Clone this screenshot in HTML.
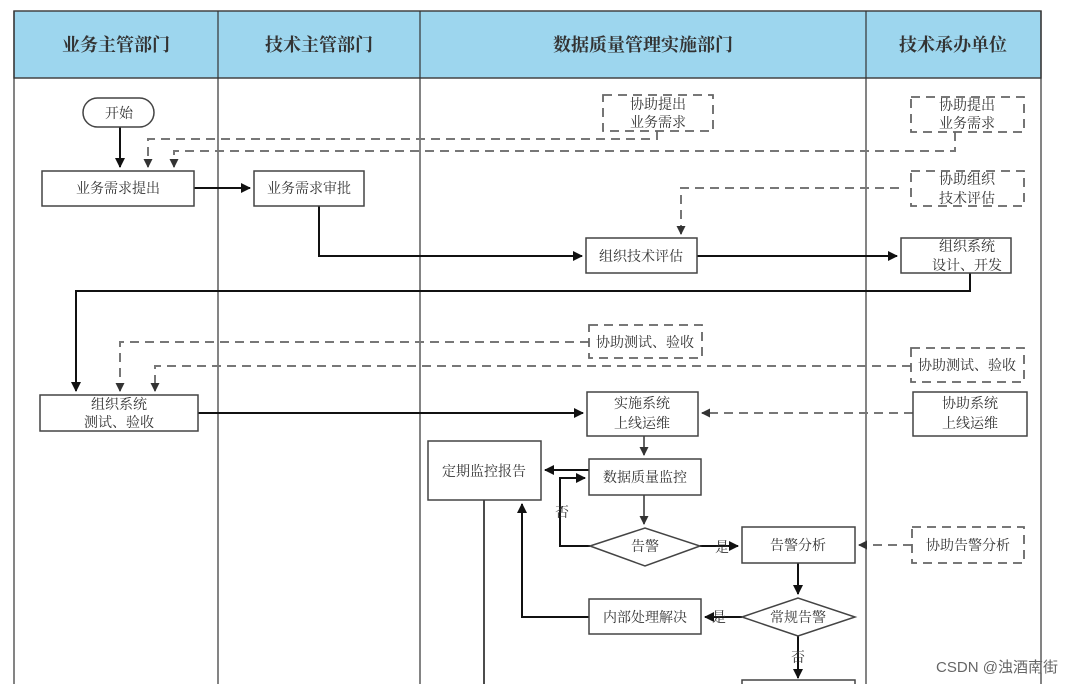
<!DOCTYPE html>
<html><head><meta charset="utf-8"><style>
body{margin:0;background:#fff;}
svg{display:block;font-family:"Liberation Serif","Noto Serif CJK SC","Noto Sans CJK SC",serif;}
</style></head><body>
<svg width="1080" height="684" viewBox="0 0 1080 684" xmlns="http://www.w3.org/2000/svg">
<defs>
<marker id="a" markerWidth="10" markerHeight="10" refX="9" refY="5" orient="auto" markerUnits="userSpaceOnUse"><path d="M0,0 L10,5 L0,10 z" fill="#111"/></marker>
<marker id="g" markerWidth="9" markerHeight="9" refX="8" refY="4.5" orient="auto" markerUnits="userSpaceOnUse"><path d="M0,0 L9,4.5 L0,9 z" fill="#333"/></marker>
</defs>
<!-- header -->
<rect x="14" y="11" width="1027" height="67" fill="#9dd6ee" stroke="#444" stroke-width="1.5"/>
<g font-size="18" fill="#333" text-anchor="middle" font-weight="bold">
<text x="116" y="51">业务主管部门</text>
<text x="319" y="51">技术主管部门</text>
<text x="643" y="51">数据质量管理实施部门</text>
<text x="953" y="51">技术承办单位</text>
</g>
<g stroke="#333" stroke-width="1.2">
<line x1="14" y1="11" x2="14" y2="684"/>
<line x1="218" y1="11" x2="218" y2="684"/>
<line x1="420" y1="11" x2="420" y2="684"/>
<line x1="866" y1="11" x2="866" y2="684"/>
<line x1="1041" y1="11" x2="1041" y2="684"/>
</g>
<!-- dashed connectors -->
<g fill="none" stroke="#777" stroke-width="2" stroke-dasharray="9,6">
<polyline points="657,131 657,139 148,139 148,167" marker-end="url(#g)"/>
<polyline points="955,132 955,151 174,151 174,167" marker-end="url(#g)"/>
<polyline points="899,188 681,188 681,234" marker-end="url(#g)"/>
<polyline points="589,342 120,342 120,391" marker-end="url(#g)"/>
<polyline points="911,366 155,366 155,391" marker-end="url(#g)"/>
<polyline points="913,413 702,413" marker-end="url(#g)"/>
<polyline points="912,545 859,545" marker-end="url(#g)"/>
</g>
<!-- dashed boxes -->
<g fill="#fff" stroke="#666" stroke-width="1.8" stroke-dasharray="9,6">
<rect x="603" y="95" width="110" height="36"/>
<rect x="911" y="97" width="113" height="35"/>
<rect x="911" y="171" width="113" height="35"/>
<rect x="589" y="325" width="113" height="33"/>
<rect x="911" y="348" width="113" height="34"/>
<rect x="912" y="527" width="112" height="36"/>
</g>
<!-- solid connectors -->
<g fill="none" stroke="#111" stroke-width="2">
<line x1="120" y1="127" x2="120" y2="167" marker-end="url(#a)"/>
<line x1="194" y1="188" x2="250" y2="188" marker-end="url(#a)"/>
<polyline points="319,206 319,256 582,256" marker-end="url(#a)"/>
<line x1="697" y1="256" x2="897" y2="256" marker-end="url(#a)"/>
<polyline points="970,273 970,291 76,291 76,391" marker-end="url(#a)"/>
<line x1="198" y1="413" x2="583" y2="413" marker-end="url(#a)"/>
<line x1="589" y1="470" x2="545" y2="470" marker-end="url(#a)"/>
<polyline points="590,546 560,546 560,478 585,478" marker-end="url(#a)"/>
<line x1="700" y1="546" x2="738" y2="546" marker-end="url(#a)"/>
<line x1="798" y1="563" x2="798" y2="594" marker-end="url(#a)"/>
<line x1="742" y1="617" x2="705" y2="617" marker-end="url(#a)"/>
<polyline points="589,617 522,617 522,504" marker-end="url(#a)"/>
<line x1="798" y1="636" x2="798" y2="678" marker-end="url(#a)"/>
<line x1="484" y1="500" x2="484" y2="684" stroke-width="1.5"/>
</g>
<g fill="none" stroke="#555" stroke-width="1.8">
<line x1="644" y1="436" x2="644" y2="455" marker-end="url(#g)"/>
<line x1="644" y1="495" x2="644" y2="524" marker-end="url(#g)"/>
</g>
<!-- solid boxes -->
<g fill="#fff" stroke="#444" stroke-width="1.5">
<rect x="83" y="98" width="71" height="29" rx="14.5"/>
<rect x="42" y="171" width="152" height="35"/>
<rect x="254" y="171" width="110" height="35"/>
<rect x="586" y="238" width="111" height="35"/>
<rect x="901" y="238" width="110" height="35"/>
<rect x="40" y="395" width="158" height="36"/>
<rect x="587" y="392" width="111" height="44"/>
<rect x="913" y="392" width="114" height="44"/>
<rect x="428" y="441" width="113" height="59"/>
<rect x="589" y="459" width="112" height="36"/>
<polygon points="590,546 645,528 700,546 645,566"/>
<rect x="742" y="527" width="113" height="36"/>
<polygon points="742,617 798,598 855,617 798,636"/>
<rect x="589" y="599" width="112" height="35"/>
<rect x="742" y="680" width="113" height="10"/>
</g>
<!-- labels -->
<g font-size="14" fill="#333" text-anchor="middle">
<text x="119" y="118">开始</text>
<text x="118" y="193">业务需求提出</text>
<text x="309" y="193">业务需求审批</text>
<text x="658" y="109">协助提出</text><text x="658" y="127">业务需求</text>
<text x="967" y="110">协助提出</text><text x="967" y="128">业务需求</text>
<text x="967" y="184">协助组织</text><text x="967" y="203">技术评估</text>
<text x="641" y="261">组织技术评估</text>
<text x="967" y="251">组织系统</text><text x="967" y="270">设计、开发</text>
<text x="645" y="347">协助测试、验收</text>
<text x="967" y="370">协助测试、验收</text>
<text x="119" y="409">组织系统</text><text x="119" y="427">测试、验收</text>
<text x="642" y="408">实施系统</text><text x="642" y="428">上线运维</text>
<text x="970" y="408">协助系统</text><text x="970" y="428">上线运维</text>
<text x="484" y="476">定期监控报告</text>
<text x="645" y="482">数据质量监控</text>
<text x="645" y="551">告警</text>
<text x="798" y="550">告警分析</text>
<text x="968" y="550">协助告警分析</text>
<text x="798" y="622">常规告警</text>
<text x="645" y="622">内部处理解决</text>
<text x="562" y="517">否</text>
<text x="722" y="552">是</text>
<text x="719" y="622">是</text>
<text x="798" y="662">否</text>
</g>
<text x="997" y="672" font-size="15" fill="#666" text-anchor="middle" font-family="Liberation Sans,Noto Sans CJK SC,sans-serif">CSDN @浊酒南街</text>
</svg>
</body></html>
